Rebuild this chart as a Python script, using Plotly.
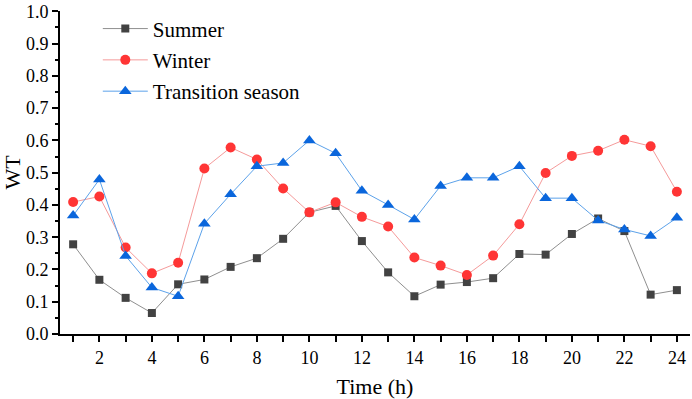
import plotly.graph_objects as go

hours = list(range(1, 25))
summer = [0.278, 0.168, 0.112, 0.065, 0.154, 0.169, 0.208, 0.235, 0.295, 0.377, 0.397, 0.288,
          0.191, 0.117, 0.153, 0.161, 0.173, 0.248, 0.246, 0.310, 0.358, 0.319, 0.122, 0.136]
winter = [0.409, 0.426, 0.268, 0.188, 0.221, 0.513, 0.578, 0.541, 0.451, 0.377, 0.408, 0.363,
          0.333, 0.237, 0.212, 0.183, 0.243, 0.340, 0.499, 0.552, 0.568, 0.602, 0.582, 0.441]
transition = [0.367, 0.479, 0.242, 0.144, 0.117, 0.342, 0.433, 0.520, 0.530, 0.600, 0.560, 0.444,
              0.400, 0.355, 0.459, 0.484, 0.484, 0.520, 0.421, 0.421, 0.352, 0.324, 0.304, 0.360]
x_tick_vals = list(range(1, 25))
x_tick_text = [str(h) if h % 2 == 0 else "" for h in x_tick_vals]
y_tick_vals = [round(i * 0.1, 1) for i in range(11)]
y_tick_text = [f"{v:.1f}" for v in y_tick_vals]

font_family = "Liberation Serif, Times New Roman, serif"

fig = go.Figure()
fig.add_trace(go.Scatter(x=hours, y=summer, name="Summer", mode="lines+markers",
                         legendgroup="a",
                         line=dict(color="#8f8f8f", width=1),
                         marker=dict(symbol="square", size=8, color="#424242")))
fig.add_trace(go.Scatter(x=hours, y=winter, name="Winter", mode="lines+markers",
                         legendgroup="b",
                         line=dict(color="#f59a9a", width=1),
                         marker=dict(symbol="circle", size=10, color="#ff3535")))
fig.add_trace(go.Scatter(x=hours, y=transition, name="Transition season", mode="lines+markers",
                         legendgroup="c",
                         line=dict(color="#5ca2ea", width=1),
                         marker=dict(symbol="triangle-up", size=11, color="#0a66dc")))

fig.update_layout(
    width=692, height=399,
    margin=dict(l=60, r=2, t=7, b=65),
    paper_bgcolor="white", plot_bgcolor="white",
    font=dict(family=font_family, size=18, color="black"),
    showlegend=True,
    legend=dict(x=0.06, y=1.008, xanchor="left", yanchor="top",
                font=dict(family=font_family, size=21, color="black"),
                itemwidth=45,
                bgcolor="rgba(0,0,0,0)", tracegroupgap=1, traceorder="grouped"),
    xaxis=dict(range=[0.5, 24.5], tickvals=x_tick_vals, ticktext=x_tick_text,
               ticks="outside", ticklen=6, tickwidth=1.5, tickcolor="black",
               showline=True, linecolor="black", linewidth=2, showgrid=False, zeroline=False,
               title=dict(text="Time (h)", font=dict(size=22), standoff=12),
               tickfont=dict(size=18), ticklabeloverflow="allow"),
    yaxis=dict(range=[0, 1.001], tickvals=y_tick_vals, ticktext=y_tick_text,
               ticks="outside", ticklen=6, tickwidth=1.5, tickcolor="black",
               minor=dict(dtick=0.05, ticks="outside", ticklen=3, tickcolor="black", tickwidth=1.5),
               showline=True, linecolor="black", linewidth=2, showgrid=False, zeroline=False,
               title=dict(text="WT", font=dict(size=22), standoff=6),
               tickfont=dict(size=18), ticklabeloverflow="allow"),
)

fig.write_html("out.html", config={"displayModeBar": False},
               post_script="document.body.style.margin='0px';")
